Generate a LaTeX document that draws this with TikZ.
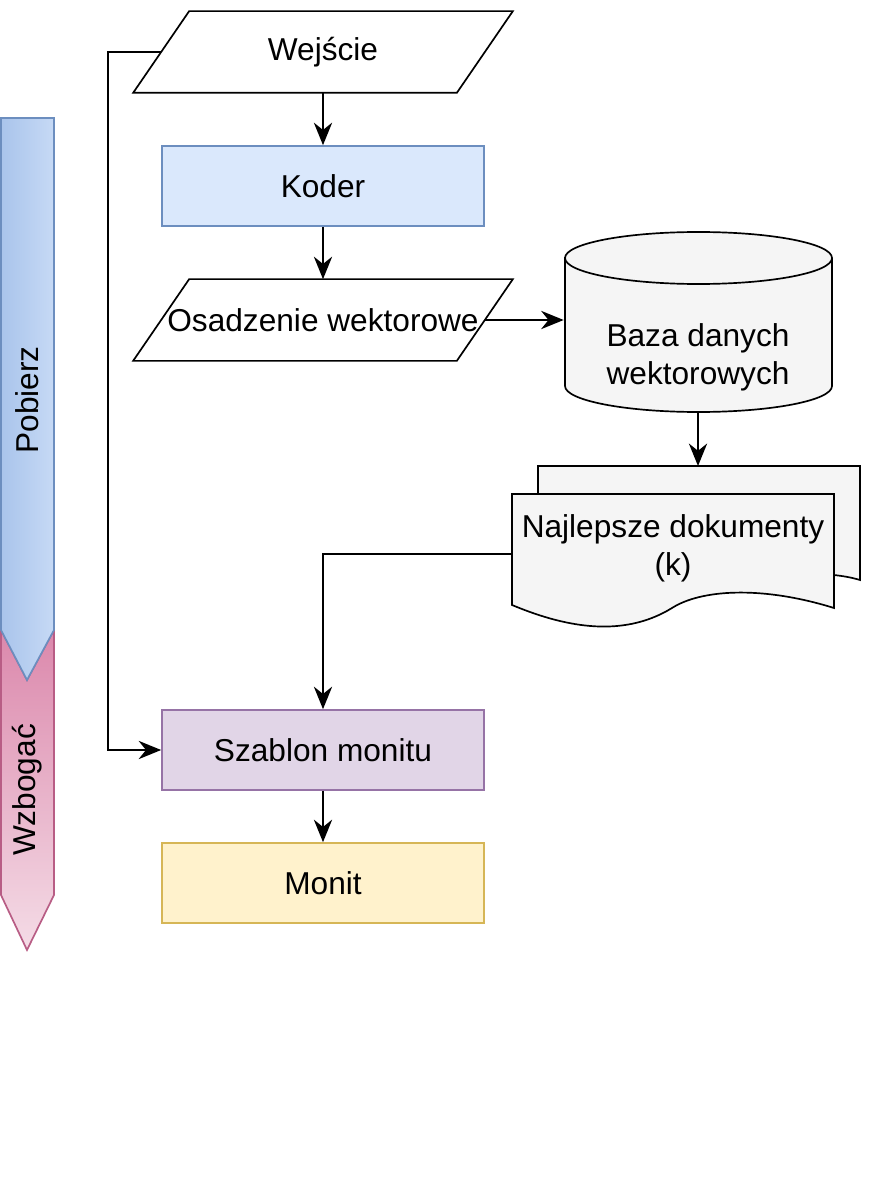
\documentclass[tikz,border=0pt]{standalone}
\usepackage{fontspec}
\setmainfont{Liberation Sans}
\usetikzlibrary{calc, arrows.meta}
\definecolor{kodfill}{HTML}{DAE8FC}
\definecolor{koddraw}{HTML}{6C8EBF}
\definecolor{szafill}{HTML}{E1D5E7}
\definecolor{szadraw}{HTML}{9673A6}
\definecolor{monfill}{HTML}{FFF2CC}
\definecolor{mondraw}{HTML}{D6B656}
\definecolor{pobfill}{HTML}{A9C4EB}
\definecolor{wzbfill}{HTML}{D5739D}
\definecolor{wzbdraw}{HTML}{B85D85}

\begin{document}
\begin{tikzpicture}[
    x=0.025cm, y=-0.025cm,
    line width=1.2pt,
    arr/.style={line width=1.3pt, -{Stealth[length=16pt, width=13pt]}},
    lab/.style={font=\fontsize{22.5}{27}\selectfont, align=center},
    box/.style={lab, draw, minimum width=322*0.025cm, minimum height=80*0.025cm},
    para/.style={lab, minimum width=322*0.025cm, minimum height=80*0.025cm},
  ]
  \useasboundingbox (0,0) rectangle (880,1194);
  % side arrows
  \draw[draw=wzbdraw, top color=wzbfill!85!white, bottom color=wzbfill!25!white]
    (1,630) -- (27,680) -- (54,630) -- (54,895) -- (27,950) -- (1,895) -- cycle;
  \draw[draw=koddraw, left color=pobfill, right color=kodfill!60!pobfill]
    (1,118) -- (54,118) -- (54,630) -- (27,680) -- (1,630) -- cycle;
  \node[lab, rotate=90] (pob) at (27,400) {Pobierz};
  \node[lab, rotate=90] (wzb) at (27,790) {Wzbogać};
  % main column
  \node[para] (we) at (323,52) {Wejście};
  \draw (we.north west) ++(28,0) -- ($(we.north east)+(28,0)$) -- ($(we.south east)+(-28,0)$) -- ($(we.south west)+(-28,0)$) -- cycle;
  \node[box, fill=kodfill, draw=koddraw] (kod) at (323,186) {Koder};
  \node[para] (osa) at (323,320) {Osadzenie wektorowe};
  \draw (osa.north west) ++(28,0) -- ($(osa.north east)+(28,0)$) -- ($(osa.south east)+(-28,0)$) -- ($(osa.south west)+(-28,0)$) -- cycle;
  \node[box, fill=szafill, draw=szadraw] (sza) at (323,750) {Szablon monitu};
  \node[box, fill=monfill, draw=mondraw] (mon) at (323,883) {Monit};
  % database
  \draw[fill=gray!8] (565,258) -- (565,386) arc[start angle=180, end angle=0, x radius=133.5, y radius=26]
    -- (832,258) arc[start angle=0, end angle=-180, x radius=133.5, y radius=26] -- cycle;
  \draw (565,258) arc[start angle=180, end angle=0, x radius=133.5, y radius=26];
  \node[lab, minimum width=267*0.025cm, minimum height=180*0.025cm] (db) at (698,322) {};
  \node[lab] (dbt) at (698,357) {Baza danych\\wektorowych};
  % documents
  \draw[fill=gray!8] (538,494) -- (538,466) -- (860,466) -- (860,580) .. controls (850,577) and (842,576) .. (834,575);
  \draw[fill=gray!8] (512,494) -- (834,494) -- (834,608) .. controls (760,585) and (700,590) .. (672,608)
    .. controls (620,640) and (560,625) .. (512,605) -- cycle;
  \node[lab, minimum width=322*0.025cm, minimum height=120*0.025cm] (doc) at (673,554) {};
  \coordinate (doctop) at (698,466);
  \node[lab] (doct) at (673,548) {Najlepsze dokumenty\\(k)};
  % connectors
  \draw[arr] (we) -- (kod);
  \draw[arr] (kod) -- (osa);
  \draw[arr] (osa.east) -- (db.west |- osa.east);
  \draw[arr] (db.south -| doctop) -- (doctop);
  \draw[arr] (doc.west) -| (sza.north);
  \draw[arr] (we.west) -| (108,400) |- (sza.west);
  \draw[arr] (sza) -- (mon);
\end{tikzpicture}
\end{document}
